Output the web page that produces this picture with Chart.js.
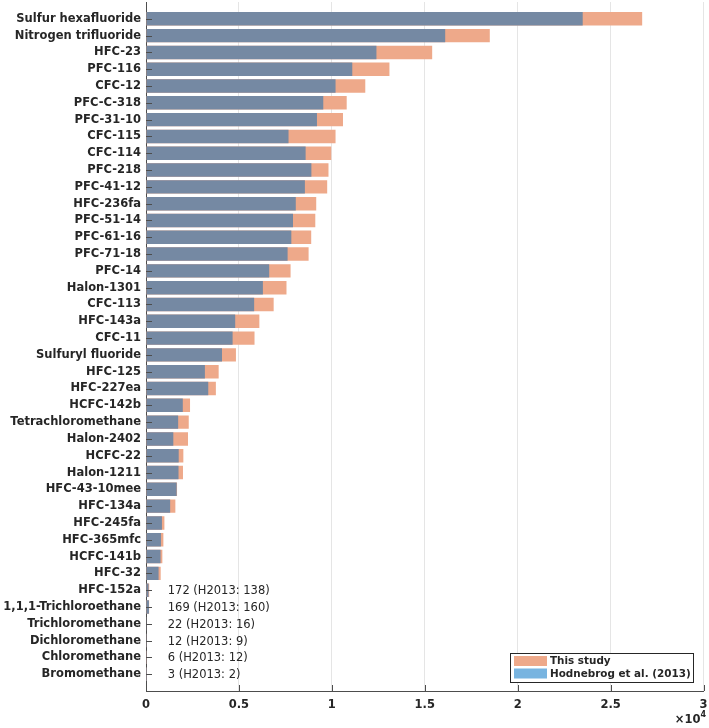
<!DOCTYPE html>
<html>
<head>
<meta charset="utf-8">
<script src="https://cdn.jsdelivr.net/npm/chart.js@4/dist/chart.umd.min.js"></script>
<style>
  body { margin: 0; background: #fff; }
  #wrap { width: 709px; height: 728px; }
</style>
</head>
<body>
<div id="wrap"><canvas id="gwpChart"></canvas></div>
<script>
 // Gases, top to bottom
 const gases = [
     'Sulfur hexafluoride', 'Nitrogen trifluoride', 'HFC-23', 'PFC-116', 'CFC-12',
     'PFC-C-318', 'PFC-31-10', 'CFC-115', 'CFC-114', 'PFC-218', 'PFC-41-12',
     'HFC-236fa', 'PFC-51-14', 'PFC-61-16', 'PFC-71-18', 'PFC-14', 'Halon-1301',
     'CFC-113', 'HFC-143a', 'CFC-11', 'Sulfuryl fluoride', 'HFC-125', 'HFC-227ea',
     'HCFC-142b', 'Tetrachloromethane', 'Halon-2402', 'HCFC-22', 'Halon-1211',
     'HFC-43-10mee', 'HFC-134a', 'HFC-245fa', 'HFC-365mfc', 'HCFC-141b', 'HFC-32',
     'HFC-152a', '1,1,1-Trichloroethane', 'Trichloromethane', 'Dichloromethane',
     'Chloromethane', 'Bromomethane'
 ];

 // This study
 const thisStudy = [
     26700, 18500, 15400, 13100, 11800, 10800, 10600, 10200, 9970, 9820, 9750,
     9160, 9110, 8890, 8750, 7780, 7560, 6870, 6100, 5840, 4840, 3910, 3760,
     2370, 2300, 2260, 2010, 1990, 1670, 1580, 990, 935, 880, 790,
     172, 169, 22, 12, 6, 3
 ];

 // Hodnebrog et al. (2013)
 const hodnebrog2013 = [
     23500, 16100, 12400, 11100, 10200, 9540, 9200, 7670, 8590, 8900, 8550,
     8060, 7910, 7820, 7620, 6630, 6290, 5820, 4800, 4660, 4090, 3170, 3350,
     1980, 1730, 1470, 1760, 1750, 1650, 1300, 858, 804, 782, 677,
     138, 160, 16, 9, 12, 2
 ];

 const xTicks = [0, 5000, 10000, 15000, 20000, 25000, 30000];

 // one empty slot above and below, like the original axis limits
 const labels = [''].concat(gases, ['']);
 const pad = arr => [null].concat(arr, [null]);

 const font = 'DejaVu Sans';
 const textColor = '#262626';
 const axisColor = '#4d4d4d';

 const extras = {
     id: 'extras',
     afterDraw(chart) {
         const { ctx, chartArea, scales: { x, y } } = chart;
         ctx.save();
         ctx.strokeStyle = axisColor;
         ctx.lineWidth = 1;
         // inward tick marks
         ctx.beginPath();
         for (let i = 1; i <= gases.length; i++) {
             const py = Math.round(y.getPixelForTick(i)) + 0.5;
             ctx.moveTo(chartArea.left, py);
             ctx.lineTo(chartArea.left + 6, py);
         }
         xTicks.forEach(v => {
             const px = Math.round(x.getPixelForValue(v)) + 0.5;
             ctx.moveTo(px, chartArea.bottom);
             ctx.lineTo(px, chartArea.bottom - 6);
         });
         ctx.stroke();

         // value notes for the tiny bars
         ctx.fillStyle = textColor;
         ctx.font = '11.5px "' + font + '"';
         ctx.textBaseline = 'middle';
         ctx.textAlign = 'left';
         gases.forEach((g, i) => {
             if (thisStudy[i] < 500) {
                 const py = y.getPixelForTick(i + 1);
                 ctx.fillText(thisStudy[i] + ' (H2013: ' + hodnebrog2013[i] + ')',
                     x.getPixelForValue(1170), py + 1);
             }
         });

         // legend box
         const lx = 510.5, ly = 653.5, lw = 183, lh = 29;
         ctx.fillStyle = '#fff';
         ctx.fillRect(lx, ly, lw, lh);
         ctx.strokeStyle = textColor;
         ctx.strokeRect(lx, ly, lw, lh);
         const items = [
             ['This study', '#eea98a'],
             ['Hodnebrog et al. (2013)', '#78b4e0']
         ];
         ctx.font = 'bold 10.4px "' + font + '"';
         items.forEach((it, k) => {
             const ry = 656 + k * 12.5;
             ctx.fillStyle = it[1];
             ctx.fillRect(514, ry, 33, 10);
             ctx.fillStyle = textColor;
             ctx.fillText(it[0], 550, ry + 5.5);
         });

         // axis exponent
         ctx.textAlign = 'right';
         ctx.textBaseline = 'alphabetic';
         ctx.font = 'bold 8px "' + font + '"';
         ctx.fillText('4', 706, 717);
         const w4 = ctx.measureText('4').width;
         ctx.font = 'bold 11.5px "' + font + '"';
         ctx.fillText('\u00d710', 706 - w4, 723);
         ctx.restore();
     }
 };

 const ctx = document.getElementById('gwpChart').getContext('2d');
 const gwpChart = new Chart(ctx, {
     type: 'bar',
     data: {
         labels: labels,
         datasets: [{
             label: 'This study',
             data: pad(thisStudy),
             backgroundColor: '#eea98a',
             grouped: false,
             order: 2,
             barPercentage: 0.8,
             categoryPercentage: 1
         }, {
             label: 'Hodnebrog et al. (2013)',
             data: pad(hodnebrog2013),
             backgroundColor: '#7589a3',
             grouped: false,
             order: 1,
             barPercentage: 0.8,
             categoryPercentage: 1
         }]
     },
     options: {
         indexAxis: 'y',
         responsive: true,
         maintainAspectRatio: false,
         animation: false,
         layout: { padding: { top: 2, right: 5.5, left: 0, bottom: 0 } },
         plugins: {
             legend: { display: false },
             tooltip: { enabled: false }
         },
         scales: {
             x: {
                 min: 0,
                 max: 30000,
                 z: 1,
                 afterBuildTicks: scale => { scale.ticks = xTicks.map(v => ({ value: v })); },
                 afterFit: scale => {
                     scale.height = 37;
                     scale.paddingLeft = 0;
                     scale.paddingRight = 0;
                 },
                 grid: { color: 'rgba(0,0,0,0.1)', drawTicks: false },
                 border: { display: true, color: axisColor },
                 ticks: {
                     padding: 7,
                     color: textColor,
                     font: { family: font, size: 11.5, weight: 'bold' },
                     callback: v => String(v / 10000)
                 }
             },
             y: {
                 type: 'category',
                 offset: false,
                 afterFit: scale => {
                     scale.width = 146;
                     scale.paddingTop = 0;
                     scale.paddingBottom = 0;
                 },
                 grid: { display: false, drawTicks: false },
                 border: { display: true, color: axisColor },
                 ticks: {
                     autoSkip: false,
                     padding: 5,
                     color: textColor,
                     font: { family: font, size: 11.5, weight: 'bold' }
                 }
             }
         }
     },
     plugins: [extras]
 });
</script>
</body>
</html>
